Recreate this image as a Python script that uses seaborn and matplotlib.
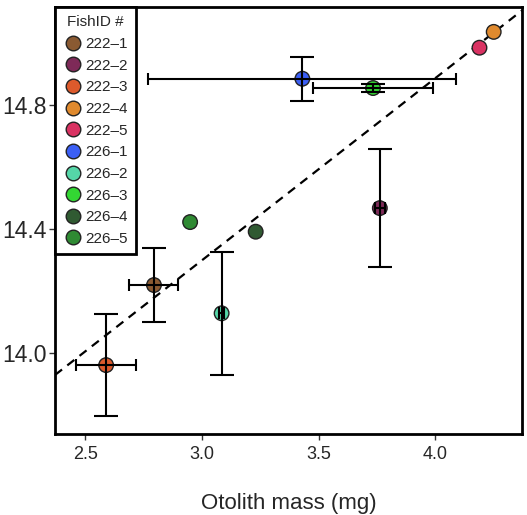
import numpy as np
import pandas as pd
import matplotlib
matplotlib.use("Agg")
import matplotlib.pyplot as plt
from matplotlib.lines import Line2D
import seaborn as sns

# Per-fish means and standard errors
fish_ids = ["222–1", "222–2", "222–3", "222–4", "222–5",
            "226–1", "226–2", "226–3", "226–4", "226–5"]
otolith_mass = [2.794, 3.762, 2.589, 4.250, 4.189, 3.430, 3.084, 3.733, 3.230, 2.949]
delta_value = [14.220, 14.468, 13.962, 15.036, 14.985, 14.885, 14.129, 14.855, 14.392, 14.423]
mass_err = [0.105, 0.02, 0.13, np.nan, np.nan, 0.66, 0.012, 0.257, np.nan, np.nan]
value_err = [0.118, 0.19, 0.165, np.nan, np.nan, 0.071, 0.199, 0.013, np.nan, np.nan]
fish_colors = ["#8a5a32", "#7e2a58", "#dd5a2c", "#e08a2e", "#d93262",
               "#3b5ff5", "#55d6a8", "#33d633", "#305a32", "#2f8a33"]

# Fitted trend line
trend_intercept = 12.539
trend_slope = 0.587

df = pd.DataFrame({"FishID": fish_ids, "mass": otolith_mass, "value": delta_value,
                   "xerr": mass_err, "yerr": value_err})

sns.set_theme(style="white")
plt.rcParams["font.family"] = ["Liberation Sans", "DejaVu Sans"]

fig = plt.figure(figsize=(5.27, 5.15), dpi=100)
ax = fig.add_axes([0.1044, 0.1573, 0.886, 0.829])

palette = dict(zip(fish_ids, fish_colors))
sns.scatterplot(data=df, x="mass", y="value", hue="FishID", palette=palette,
                s=110, edgecolor="#222222", linewidth=1.0, legend=False,
                ax=ax, zorder=3)

# Error bars drawn over the points
ax.errorbar(df["mass"], df["value"], yerr=df["yerr"], fmt="none",
            ecolor="black", elinewidth=1.5, capsize=8.5, capthick=1.5, zorder=4)
ax.errorbar(df["mass"], df["value"], xerr=df["xerr"], fmt="none",
            ecolor="black", elinewidth=1.5, capsize=4.3, capthick=1.5, zorder=4)

ax.axline((0, trend_intercept), slope=trend_slope, color="black", lw=1.6,
          linestyle=(0, (4, 3)), zorder=2)

ax.set_xlim(2.370, 4.371)
ax.set_ylim(13.740, 15.116)
ax.set_xticks([2.5, 3.0, 3.5, 4.0])
ax.set_xticklabels(["2.5", "3.0", "3.5", "4.0"])
ax.set_yticks([14.0, 14.4, 14.8])
ax.set_yticklabels(["14.0", "14.4", "14.8"])
ax.tick_params(axis="x", labelsize=13, length=4, width=1, color="#333333", pad=5, bottom=True)
ax.tick_params(axis="y", labelsize=16.5, length=4, width=1, color="#333333", pad=2, left=True)
ax.set_xlabel("Otolith mass (mg)", fontsize=16, labelpad=21)
ax.set_ylabel("")

for sp in ax.spines.values():
    sp.set_visible(True)
    sp.set_color("black")
    sp.set_linewidth(2)

handles = [Line2D([0], [0], marker="o", linestyle="none", markersize=10.5,
                  markerfacecolor=c, markeredgecolor="#222222", markeredgewidth=1.0)
           for c in fish_colors]
leg = ax.legend(handles, fish_ids, title="FishID #", loc="upper left",
                bbox_to_anchor=(0, 1), borderaxespad=0, fontsize=11,
                title_fontsize=11, frameon=True, fancybox=False,
                labelspacing=0.5, handletextpad=0.2, handlelength=1.2,
                borderpad=0.55)
leg.get_frame().set_edgecolor("black")
leg.get_frame().set_linewidth(2)
leg.get_frame().set_alpha(1)

fig.savefig("out.png", dpi=100)
